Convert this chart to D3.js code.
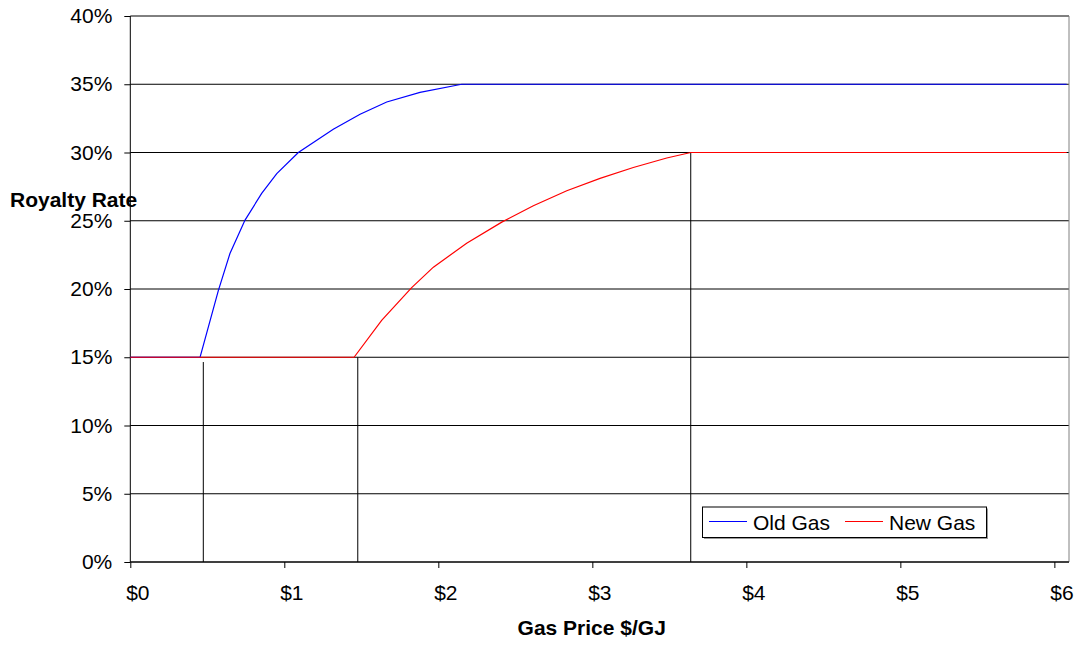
<!DOCTYPE html>
<html>
<head>
<meta charset="utf-8">
<script src="https://cdn.jsdelivr.net/npm/d3@7"></script>
<style>
  body { margin: 0; background: #fff; }
  text { font-family: "Liberation Sans", Arial, sans-serif; }
</style>
</head>
<body>
<div id="chart"></div>
<script>
// values ($/GJ and %)
var oldPrice = [0, 0.453, 0.572, 0.647, 0.745, 0.853, 0.951, 1.091, 1.318, 1.492, 1.665, 1.881, 2.152, 6.08];
var oldRate  = [15, 15, 19.9, 22.6, 25.05, 27.0, 28.45, 30.0, 31.7, 32.8, 33.7, 34.4, 35, 35];

var newPrice = [0, 1.453, 1.632, 1.827, 1.968, 2.184, 2.412, 2.617, 2.834, 3.05, 3.266, 3.483, 3.639, 6.08];
var newRate  = [15, 15, 17.7, 20.1, 21.6, 23.35, 24.9, 26.1, 27.2, 28.1, 28.9, 29.6, 30, 30];

// vertical reference lines
var dropPrice = [0.474, 1.477, 3.639];
var dropRate  = [14.65, 15, 30];

var xTicks = [0, 1, 2, 3, 4, 5, 6];
var yTicks = [0, 5, 10, 15, 20, 25, 30, 35, 40];

var width = 1078, height = 646;
var margin = {top: 16, right: 9, bottom: 84, left: 130.3};

var svg = d3.select("#chart")
  .append("svg")
  .attr("width", width)
  .attr("height", height);

var x = d3.scaleLinear()
  .domain([0, 6.095])
  .range([margin.left, width - margin.right]);

var y = d3.scaleLinear()
  .domain([0, 40])
  .range([height - margin.bottom, margin.top]);

// gridlines
svg.append("g")
  .selectAll("line")
  .data(yTicks)
  .enter()
  .append("line")
    .attr("x1", x(0))
    .attr("x2", x(6.095))
    .attr("y1", function(d) { return y(d); })
    .attr("y2", function(d) { return y(d); })
    .attr("stroke", "#000")
    .attr("stroke-width", 1);

// right border
svg.append("line")
  .attr("x1", x(6.095)).attr("x2", x(6.095))
  .attr("y1", y(40)).attr("y2", y(0))
  .attr("stroke", "#808080");

// drop lines
svg.append("g")
  .selectAll("line")
  .data(dropPrice)
  .enter()
  .append("line")
    .attr("x1", function(d) { return x(d); })
    .attr("x2", function(d) { return x(d); })
    .attr("y1", function(d, i) { return y(dropRate[i]); })
    .attr("y2", y(0))
    .attr("stroke", "#000");

// axes
var xAxis = svg.append("g")
  .attr("transform", "translate(0," + y(0) + ")")
  .call(d3.axisBottom(x).tickValues(xTicks).tickSize(6).tickPadding(17)
    .tickFormat(function(d) { return "$" + d; }));
xAxis.select(".domain").attr("d", "M" + x(0) + ",0H" + x(6.095));
xAxis.selectAll("text")
  .attr("font-size", "21px")
  .attr("font-family", "Liberation Sans, Arial, sans-serif")
  .attr("fill", "#000")
  .attr("dx", 7);

var yAxis = svg.append("g")
  .attr("transform", "translate(" + x(0) + ",0)")
  .call(d3.axisLeft(y).tickValues(yTicks).tickSize(6).tickPadding(12)
    .tickFormat(function(d) { return d + "%"; }));
yAxis.select(".domain").attr("d", "M0," + y(40) + "V" + y(0));
yAxis.selectAll("text")
  .attr("font-size", "21px")
  .attr("font-family", "Liberation Sans, Arial, sans-serif")
  .attr("fill", "#000");

// series
var line = d3.line()
  .x(function(d) { return x(d[0]); })
  .y(function(d) { return y(d[1]); });

svg.append("path")
  .datum(d3.zip(oldPrice, oldRate))
  .attr("d", line)
  .attr("fill", "none")
  .attr("stroke", "#0000ff")
  .attr("stroke-width", 1.2);

svg.append("path")
  .datum(d3.zip(newPrice, newRate))
  .attr("d", line)
  .attr("fill", "none")
  .attr("stroke", "#ff0000")
  .attr("stroke-width", 1.2);

// axis titles
svg.append("text")
  .attr("x", 10)
  .attr("y", 207)
  .attr("font-size", "21px")
  .attr("font-weight", "bold")
  .text("Royalty Rate");

svg.append("text")
  .attr("x", 591.7)
  .attr("y", 635)
  .attr("text-anchor", "middle")
  .attr("font-size", "21px")
  .attr("font-weight", "bold")
  .text("Gas Price $/GJ");

// legend
var legend = svg.append("g");
legend.append("rect")
  .attr("x", 704).attr("y", 508.5)
  .attr("width", 284).attr("height", 30.5)
  .attr("fill", "#999");
legend.append("rect")
  .attr("x", 702.5).attr("y", 507)
  .attr("width", 284).attr("height", 30.5)
  .attr("fill", "#fff")
  .attr("stroke", "#000");

var legendItems = [
  {name: "Old Gas", color: "#0000ff", x: 709},
  {name: "New Gas", color: "#ff0000", x: 845}
];
legendItems.forEach(function(d) {
  legend.append("line")
    .attr("x1", d.x).attr("x2", d.x + 38)
    .attr("y1", 521.5).attr("y2", 521.5)
    .attr("stroke", d.color);
  legend.append("text")
    .attr("x", d.x + 44)
    .attr("y", 530)
    .attr("font-size", "21px")
    .text(d.name);
});
</script>
</body>
</html>
